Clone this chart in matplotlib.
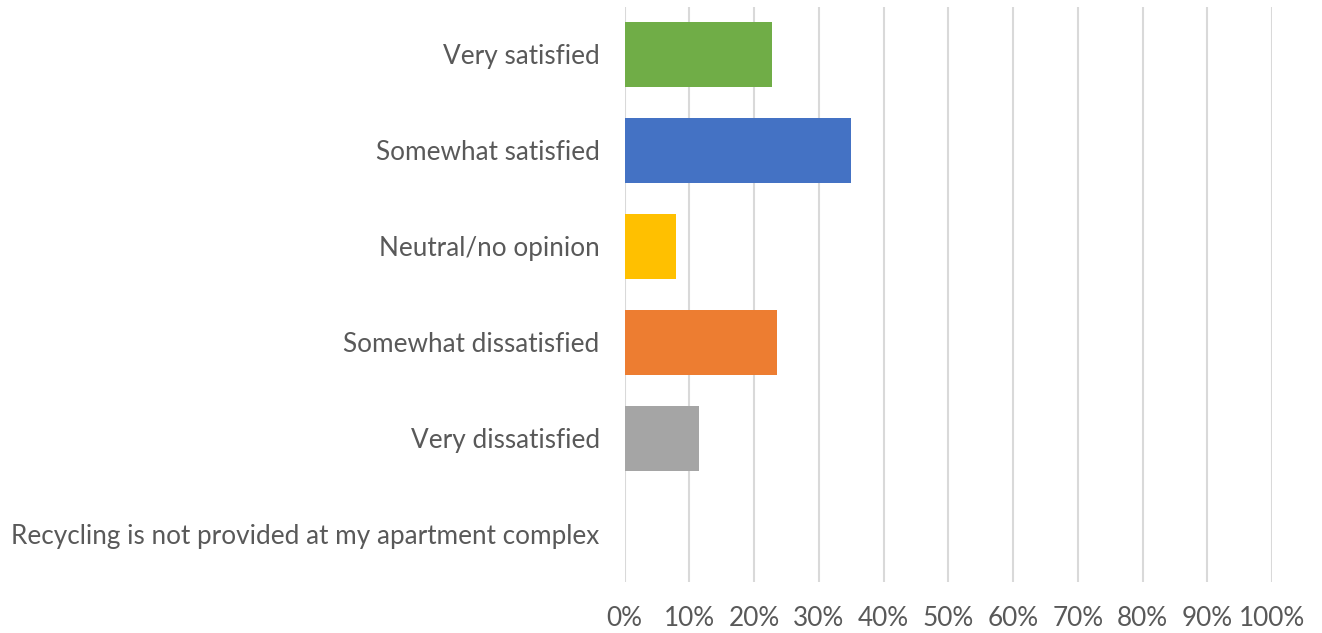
import matplotlib
matplotlib.use("Agg")
import matplotlib.pyplot as plt
from matplotlib.ticker import FuncFormatter, MultipleLocator

categories = [
    "Very satisfied",
    "Somewhat satisfied",
    "Neutral/no opinion",
    "Somewhat dissatisfied",
    "Very dissatisfied",
    "Recycling is not provided at my apartment complex",
]
values = [22.8, 34.9, 8.0, 23.6, 11.5, 0.0]
colors = ["#70AD47", "#4472C4", "#FFC000", "#ED7D31", "#A5A5A5", "#5B9BD5"]

plt.rcParams['font.family'] = ['Lato', 'DejaVu Sans']

fig = plt.figure(figsize=(13.22, 6.33), dpi=100)
ax = fig.add_axes([0.4725, 0.0806, 0.9623 - 0.4725, 0.9897 - 0.0806])

ypos = list(range(len(categories)))
ax.barh(ypos, values, height=0.68, color=colors, zorder=3)
ax.set_ylim(len(categories) - 0.5, -0.5)
ax.set_xlim(0, 100)
ax.set_yticks(ypos)
ax.set_yticklabels(categories)
ax.xaxis.set_major_locator(MultipleLocator(10))
ax.xaxis.set_major_formatter(FuncFormatter(lambda v, p: f"{int(round(v))}%"))
ax.grid(axis='x', color='#D9D9D9', linewidth=1.5, zorder=0)
for s in ax.spines.values():
    s.set_visible(False)
ax.tick_params(axis='both', length=0, labelsize=18.8, labelcolor='#595959')
ax.tick_params(axis='y', pad=18)
ax.tick_params(axis='x', pad=17)

fig.savefig("out.png", dpi=100)
